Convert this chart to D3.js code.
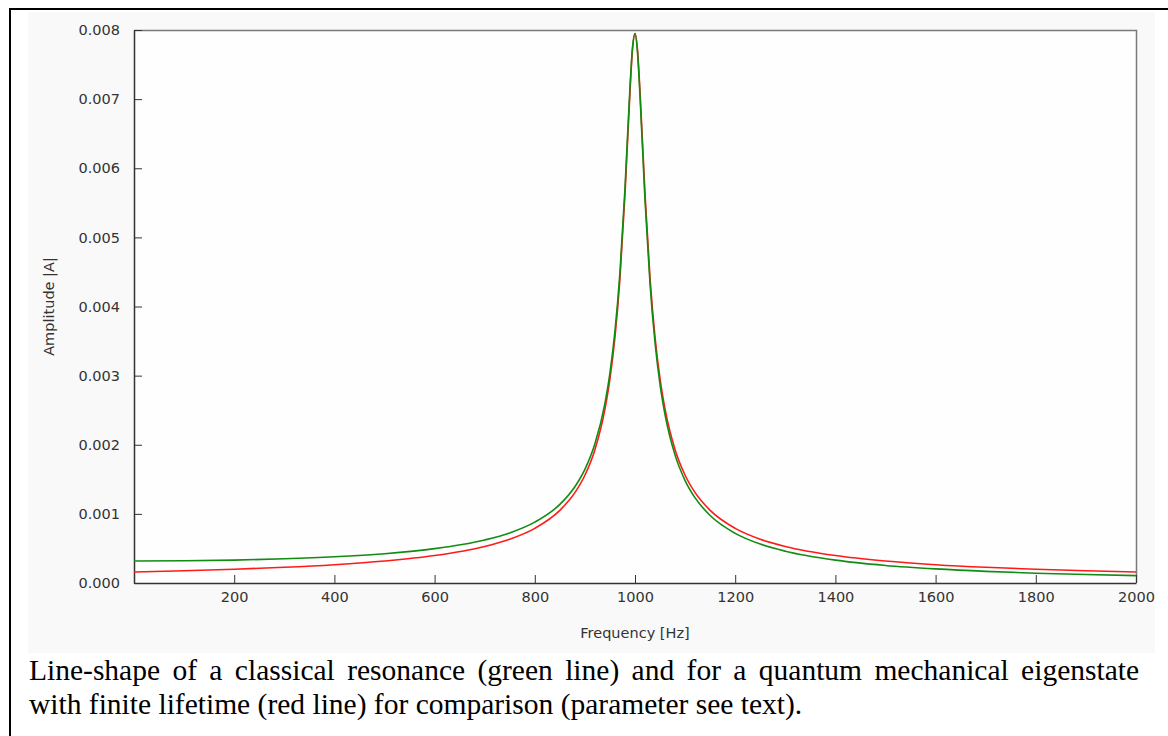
<!DOCTYPE html>
<html>
<head>
<meta charset="utf-8">
<script src="https://cdn.jsdelivr.net/npm/d3@7"></script>
<style>
  body { margin: 0; background: #ffffff; }
  svg { display: block; }
</style>
</head>
<body>
<svg width="1168" height="736"></svg>
<script>
"use strict";
// Frequencies in Hz, denser around the resonance at 1000 Hz.
const frequencies = [0, 100, 200, 300, 400, 500, 600, 700, 750, 800, 850, 880, 900, 920, 940, 950, 960, 970, 980, 990, 995,
    1000, 1005, 1010, 1020, 1030, 1040, 1050, 1060, 1080, 1100, 1120, 1150, 1200, 1250, 1300, 1400, 1500, 1600, 1700, 1800, 1900, 2000];
// classical resonance (green line)
const classicalAmp = [0.000318, 0.000321, 0.000331, 0.00035, 0.000379, 0.000424, 0.000497, 0.000623, 0.000725, 0.00088, 0.001137, 0.001393, 0.001644, 0.002013, 0.0026, 0.003039, 0.003643, 0.004498, 0.005707, 0.007175, 0.00775,
    0.00795, 0.007676, 0.007048, 0.005538, 0.004325, 0.003472, 0.002871, 0.002434, 0.00185, 0.001482, 0.001231, 0.000976, 0.000718, 0.000563, 0.00046, 0.000331, 0.000254, 0.000204, 0.000168, 0.000142, 0.000122, 0.000106];
// quantum mechanical eigenstate with finite lifetime (red line)
const quantumAmp = [0.000159, 0.000177, 0.000199, 0.000227, 0.000265, 0.000318, 0.000397, 0.000529, 0.000634, 0.000791, 0.001051, 0.001307, 0.001559, 0.001928, 0.002514, 0.002953, 0.003555, 0.00441, 0.005622, 0.007111, 0.007711,
    0.00795, 0.007711, 0.007111, 0.005622, 0.00441, 0.003555, 0.002953, 0.002514, 0.001928, 0.001559, 0.001307, 0.001051, 0.000791, 0.000634, 0.000529, 0.000397, 0.000318, 0.000265, 0.000227, 0.000199, 0.000177, 0.000159];
const xTicks = [200, 400, 600, 800, 1000, 1200, 1400, 1600, 1800, 2000];
const yTicks = [0, 0.001, 0.002, 0.003, 0.004, 0.005, 0.006, 0.007, 0.008];
const captionLines = [
    "Line-shape of a classical resonance (green line) and for a quantum mechanical eigenstate",
    "with finite lifetime (red line) for comparison (parameter see text)."
];

const svg = d3.select("svg");
const plotLeft = 134, plotRight = 1136, plotTop = 30, plotBottom = 583;
const labelFont = "'DejaVu Sans', Verdana, sans-serif";

// page border (table cell) and the grey image background
svg.append("rect").attr("x", 28).attr("y", 12).attr("width", 1127).attr("height", 641).attr("fill", "#f9f9f9");
svg.append("line").attr("x1", 9).attr("x2", 1168).attr("y1", 9).attr("y2", 9).attr("stroke", "#000").attr("stroke-width", 2);
svg.append("line").attr("x1", 10).attr("x2", 10).attr("y1", 9).attr("y2", 736).attr("stroke", "#000").attr("stroke-width", 2);

const x = d3.scaleLinear().domain([0, 2000]).range([plotLeft, plotRight]);
const y = d3.scaleLinear().domain([0, 0.008]).range([plotBottom, plotTop]);

svg.append("rect")
    .attr("x", plotLeft).attr("y", plotTop)
    .attr("width", plotRight - plotLeft).attr("height", plotBottom - plotTop)
    .attr("fill", "#fefefe");

// grey frame top/right
svg.append("path")
    .attr("d", `M${plotLeft},${plotTop + 0.5}H${plotRight + 0.5}V${plotBottom}`)
    .attr("fill", "none").attr("stroke", "#7a7a7a").attr("stroke-width", 1.5);

const xAxis = svg.append("g")
    .attr("transform", `translate(0, ${plotBottom})`)
    .call(d3.axisBottom(x).tickValues(xTicks).tickSizeInner(-8).tickSizeOuter(0).tickPadding(16).tickFormat(d3.format("d")));
const yAxis = svg.append("g")
    .attr("transform", `translate(${plotLeft}, 0)`)
    .call(d3.axisLeft(y).tickValues(yTicks).tickSizeInner(-8).tickSizeOuter(0).tickPadding(14).tickFormat(d3.format(".3f")));

[xAxis, yAxis].forEach(ax => {
    ax.select(".domain").attr("stroke", "#333").attr("stroke-width", 1.5);
    ax.selectAll(".tick line").attr("stroke", "#333");
    ax.selectAll(".tick text").attr("fill", "#333").attr("font-size", 14.5).attr("font-family", labelFont);
});
xAxis.selectAll(".tick text").attr("dy", "0.2em");

svg.append("text")
    .attr("x", (plotLeft + plotRight) / 2).attr("y", 638)
    .attr("text-anchor", "middle")
    .attr("font-size", 14.5).attr("font-family", labelFont).attr("fill", "#333")
    .text("Frequency [Hz]");
svg.append("text")
    .attr("transform", `translate(54 ${(plotTop + plotBottom) / 2}) rotate(-90)`)
    .attr("text-anchor", "middle")
    .attr("font-size", 14.5).attr("font-family", labelFont).attr("fill", "#333")
    .text("Amplitude |A|");

const line = d3.line().curve(d3.curveMonotoneX);
const series = [
    { values: quantumAmp, color: "#ff1a1a" },
    { values: classicalAmp, color: "#118c11" }
];
svg.selectAll("path.series")
    .data(series)
    .join("path")
    .attr("class", "series")
    .attr("d", s => line(frequencies.map((f, i) => [x(f), y(s.values[i])])))
    .attr("fill", "none")
    .attr("stroke", s => s.color)
    .attr("stroke-width", 1.6);

// caption: first line is justified, so it gets wider word gaps
svg.selectAll("text.caption")
    .data(captionLines)
    .join("text")
    .attr("class", "caption")
    .attr("x", 29)
    .attr("y", (d, i) => 680 + i * 34)
    .attr("font-size", 29.5)
    .attr("font-family", "'Liberation Serif', 'Times New Roman', serif")
    .attr("fill", "#000")
    .attr("word-spacing", (d, i) => i === 0 ? 5 : 0)
    .text(d => d);
</script>
</body>
</html>
